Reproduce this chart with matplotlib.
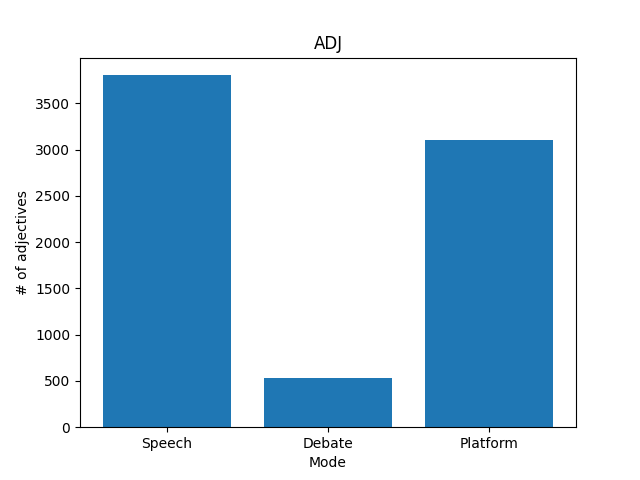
import matplotlib
matplotlib.use('Agg')
import matplotlib.pyplot as plt

modes = ['Speech', 'Debate', 'Platform']
counts = [3805, 530, 3102]

fig, ax = plt.subplots(figsize=(6.4, 4.8), dpi=100)
ax.bar(modes, counts)
ax.set_title('ADJ')
ax.set_xlabel('Mode')
ax.set_ylabel('# of adjectives')
fig.savefig('out.png')
